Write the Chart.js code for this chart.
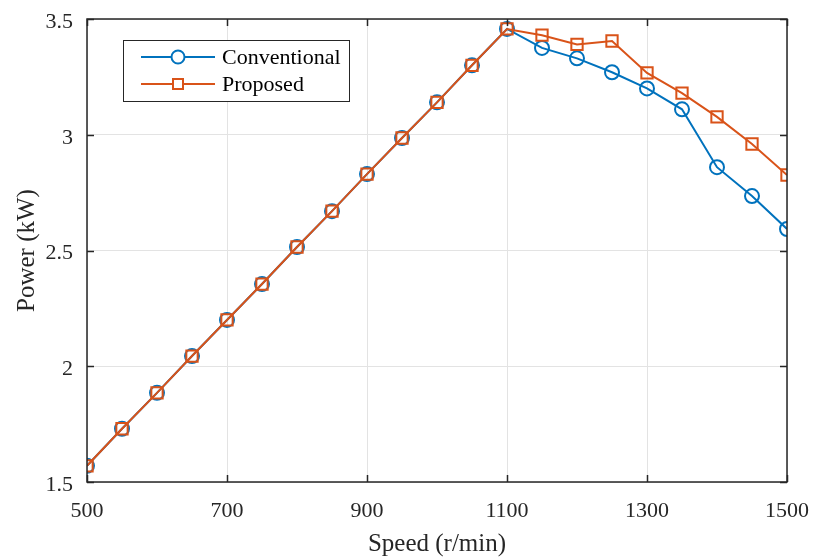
<!DOCTYPE html>
<html>
<head>
<meta charset="utf-8">
<script src="https://cdn.jsdelivr.net/npm/chart.js@4"></script>
<style>
  html, body { margin: 0; padding: 0; background: #fff; }
  #wrap { width: 815px; height: 560px; }
</style>
</head>
<body>
<div id="wrap"><canvas id="chart" width="815" height="560"></canvas></div>
<script>
var speed = [500, 550, 600, 650, 700, 750, 800, 850, 900, 950, 1000, 1050, 1100, 1150, 1200, 1250, 1300, 1350, 1400, 1450, 1500];
var conventional = [1.57, 1.73, 1.885, 2.044, 2.20, 2.355, 2.515, 2.67, 2.83, 2.986, 3.14, 3.30, 3.457, 3.375, 3.33, 3.27, 3.20, 3.11, 2.86, 2.735, 2.593];
var proposed = [1.57, 1.73, 1.885, 2.044, 2.20, 2.355, 2.515, 2.67, 2.83, 2.986, 3.14, 3.30, 3.457, 3.43, 3.39, 3.405, 3.267, 3.18, 3.077, 2.96, 2.826];
var xTicks = [500, 700, 900, 1100, 1300, 1500];
var yTicks = [1.5, 2, 2.5, 3, 3.5];

var blue = '#0072BD';
var orange = '#D95319';
var font = 'Liberation Serif';

function pts(ys) {
    return speed.map(function (x, i) { return { x: x, y: ys[i] }; });
}

// box, inward ticks and legend, MATLAB style
var axesBox = {
    id: 'axesBox',
    afterDraw: function (chart) {
        var c = chart.ctx, a = chart.chartArea;
        var xs = chart.scales.x, ys = chart.scales.y;
        c.save();
        c.strokeStyle = '#262626';
        c.lineWidth = 1.5;
        c.strokeRect(a.left, a.top, a.right - a.left, a.bottom - a.top);
        c.beginPath();
        xTicks.forEach(function (v) {
            var px = Math.round(xs.getPixelForValue(v)) + 0.5;
            c.moveTo(px, a.bottom); c.lineTo(px, a.bottom - 7);
            c.moveTo(px, a.top); c.lineTo(px, a.top + 7);
        });
        yTicks.forEach(function (v) {
            var py = Math.round(ys.getPixelForValue(v)) + 0.5;
            c.moveTo(a.left, py); c.lineTo(a.left + 7, py);
            c.moveTo(a.right, py); c.lineTo(a.right - 7, py);
        });
        c.stroke();

        // legend
        var lx = 123, ly = 40, lw = 226, lh = 61;
        c.fillStyle = '#fff';
        c.fillRect(lx, ly, lw, lh);
        c.strokeStyle = '#262626';
        c.lineWidth = 1;
        c.strokeRect(lx + 0.5, ly + 0.5, lw, lh);
        chart.data.datasets.forEach(function (ds, i) {
            var yy = ly + 17 + i * 27;
            c.strokeStyle = ds.borderColor;
            c.lineWidth = 2;
            c.beginPath();
            c.moveTo(lx + 18, yy); c.lineTo(lx + 92, yy);
            c.stroke();
            if (ds.pointStyle === 'circle') {
                c.beginPath();
                c.arc(lx + 55, yy, 6.5, 0, Math.PI * 2);
                c.fillStyle = '#fff';
                c.fill();
                c.stroke();
            } else {
                c.fillStyle = '#fff';
                c.fillRect(lx + 50, yy - 5, 10, 10);
                c.strokeRect(lx + 50, yy - 5, 10, 10);
            }
            c.fillStyle = '#000';
            c.font = '22px "' + font + '"';
            c.textBaseline = 'middle';
            c.textAlign = 'left';
            c.fillText(ds.label, lx + 99, yy + 1);
        });
        c.restore();
    }
};

const ctx = document.getElementById('chart').getContext('2d');
const powerChart = new Chart(ctx, {
    type: 'line',
    data: {
        datasets: [{
            label: 'Conventional',
            data: pts(conventional),
            borderColor: blue,
            backgroundColor: 'rgba(0,0,0,0)',
            borderWidth: 2,
            pointStyle: 'circle',
            pointRadius: 7,
            pointBorderWidth: 2,
            pointBorderColor: blue,
            pointBackgroundColor: 'rgba(0,0,0,0)',
            order: 2
        }, {
            label: 'Proposed',
            data: pts(proposed),
            borderColor: orange,
            backgroundColor: 'rgba(0,0,0,0)',
            borderWidth: 2,
            pointStyle: 'rect',
            pointRadius: 8,
            pointBorderWidth: 2,
            pointBorderColor: orange,
            pointBackgroundColor: 'rgba(0,0,0,0)',
            order: 1
        }]
    },
    options: {
        responsive: false,
        animation: false,
        layout: { padding: { left: 0, right: 28, top: 19, bottom: 0 } },
        plugins: {
            legend: { display: false },
            tooltip: { enabled: false }
        },
        scales: {
            x: {
                type: 'linear',
                min: 500,
                max: 1500,
                afterBuildTicks: function (s) { s.ticks = xTicks.map(function (v) { return { value: v }; }); },
                afterFit: function (s) { s.height = 78; s.paddingLeft = 0; s.paddingRight = 0; },
                grid: { color: '#e3e3e3', lineWidth: 1, drawTicks: false },
                border: { display: false },
                ticks: {
                    color: '#262626', font: { family: font, size: 22 }, padding: 16, maxRotation: 0,
                    callback: function (v) { return String(v); }
                },
                title: { display: true, text: 'Speed (r/min)', color: '#262626', font: { family: font, size: 25 }, padding: { top: 0, bottom: 1 } }
            },
            y: {
                min: 1.5,
                max: 3.5,
                afterBuildTicks: function (s) { s.ticks = yTicks.map(function (v) { return { value: v }; }); },
                afterFit: function (s) { s.width = 87; s.paddingTop = 0; s.paddingBottom = 0; },
                grid: { color: '#e3e3e3', lineWidth: 1, drawTicks: false },
                border: { display: false },
                ticks: {
                    color: '#262626', font: { family: font, size: 22 }, padding: 14, labelOffset: 3,
                    callback: function (v) { return String(v); }
                },
                title: { display: true, text: 'Power (kW)', color: '#262626', font: { family: font, size: 25 }, padding: { top: 12, bottom: 0 } }
            }
        }
    },
    plugins: [axesBox]
});
</script>
</body>
</html>
